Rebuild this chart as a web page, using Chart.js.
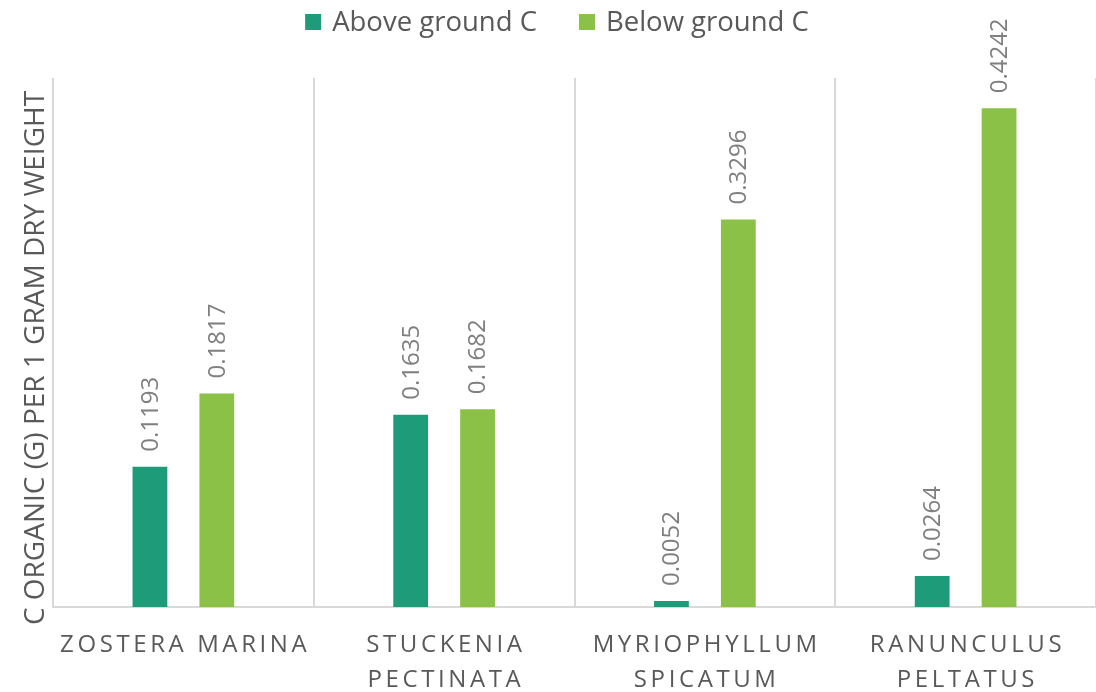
<!DOCTYPE html>
<html>
<head>
<meta charset="utf-8">
<script src="https://cdn.jsdelivr.net/npm/chart.js@4.4.1/dist/chart.umd.min.js"></script>
<style>
  html, body { margin: 0; padding: 0; background: #fff; }
  #wrap { width: 1096px; height: 692px; position: relative; }
</style>
</head>
<body>
<div id="wrap"><canvas id="c"></canvas></div>
<script>
// Species (two-line labels where the name wraps)
const species = [
  ["ZOSTERA MARINA"],
  ["STUCKENIA", "PECTINATA"],
  ["MYRIOPHYLLUM", "SPICATUM"],
  ["RANUNCULUS", "PELTATUS"]
];
// Organic carbon, g per 1 g dry weight
const aboveGround = [0.1193, 0.1635, 0.0052, 0.0264];
const belowGround = [0.1817, 0.1682, 0.3296, 0.4242];
const seriesNames = ["Above ground C", "Below ground C"];
const seriesColors = ["#1e9b79", "#8bc147"];
const axisTitle = "C ORGANIC (G) PER 1 GRAM DRY WEIGHT";

const FONT = '"Open Sans", "DejaVu Sans", sans-serif';
const TEXT_DARK = "#595959";
const TEXT_LABEL = "#7f7f7f";
const GRID = "#d9d9d9";

// Custom drawing: value labels, wrapped category labels, axis title and legend
const decor = {
  id: "decor",
  afterDatasetsDraw(chart) {
    const ctx = chart.ctx;
    const xs = chart.scales.x;

    // rotated value labels above each bar
    ctx.save();
    ctx.font = "24px " + FONT;
    ctx.fillStyle = TEXT_LABEL;
    ctx.textAlign = "left";
    ctx.textBaseline = "middle";
    chart.data.datasets.forEach((ds, i) => {
      chart.getDatasetMeta(i).data.forEach((bar, j) => {
        ctx.save();
        ctx.translate(bar.x + 1, bar.y - 15);
        ctx.rotate(-Math.PI / 2);
        ctx.fillText(ds.data[j].toFixed(4), 0, 0);
        ctx.restore();
      });
    });
    ctx.restore();

    // category labels, letter-spaced, possibly on two lines
    ctx.save();
    ctx.font = "24px " + FONT;
    ctx.fillStyle = TEXT_DARK;
    ctx.textAlign = "center";
    ctx.textBaseline = "middle";
    const spacing = 3.6;
    ctx.letterSpacing = spacing + "px";
    chart.data.labels.forEach((lines, j) => {
      const cx = xs.getPixelForValue(j) + spacing / 2;
      lines.forEach((ln, k) => {
        ctx.fillText(ln, cx, 645 + k * 35);
      });
    });
    ctx.restore();

    // y axis title
    ctx.save();
    ctx.font = "28px " + FONT;
    ctx.fillStyle = TEXT_DARK;
    ctx.textAlign = "center";
    ctx.textBaseline = "middle";
    ctx.translate(36, 358);
    ctx.rotate(-Math.PI / 2);
    ctx.fillText(axisTitle, 0, 0);
    ctx.restore();

    // legend
    ctx.save();
    ctx.font = "27.5px " + FONT;
    ctx.textBaseline = "middle";
    ctx.textAlign = "left";
    const box = 16, gapText = 11, gapItem = 42, ly = 22;
    const widths = chart.data.datasets.map(ds => box + gapText + ctx.measureText(ds.label).width);
    const total = widths.reduce((a, b) => a + b, 0) + gapItem * (widths.length - 1);
    let x = 557 - total / 2;
    chart.data.datasets.forEach((ds, i) => {
      ctx.fillStyle = ds.backgroundColor;
      ctx.fillRect(x, ly - box / 2, box, box);
      ctx.fillStyle = TEXT_DARK;
      ctx.fillText(ds.label, x + box + gapText, ly + 1);
      x += widths[i] + gapItem;
    });
    ctx.restore();
  }
};

new Chart(document.getElementById("c"), {
  type: "bar",
  data: {
    labels: species,
    datasets: [
      { label: seriesNames[0], data: aboveGround, backgroundColor: seriesColors[0] },
      { label: seriesNames[1], data: belowGround, backgroundColor: seriesColors[1] }
    ]
  },
  options: {
    responsive: true,
    maintainAspectRatio: false,
    animation: false,
    layout: { padding: { top: 78, right: 0, bottom: 0, left: 0 } },
    datasets: { bar: { categoryPercentage: 0.513, barPercentage: 0.52 } },
    plugins: {
      legend: { display: false },
      tooltip: { enabled: false }
    },
    scales: {
      x: {
        grid: { display: true, color: GRID, lineWidth: 2, drawTicks: false, offset: true },
        border: { display: true, color: GRID, width: 2 },
        ticks: { display: false },
        afterFit(scale) { scale.height = 85; }
      },
      y: {
        min: 0,
        max: 0.45,
        grid: { display: false },
        border: { display: false },
        ticks: { display: false },
        afterFit(scale) { scale.width = 53; }
      }
    }
  },
  plugins: [decor]
});
</script>
</body>
</html>
